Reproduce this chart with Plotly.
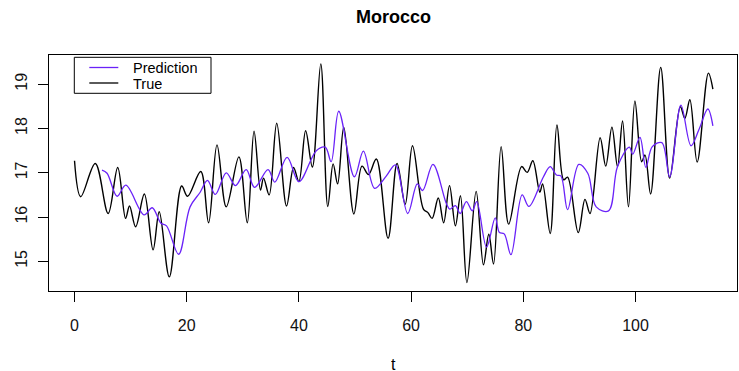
import plotly.graph_objects as go

# ---- data ----
true_t = [0, 1.1, 3.7, 6.0, 7.7, 9.1, 9.8, 10.9, 12.45, 14.0, 15.1, 16.9, 19.1, 20.15, 22.5, 23.9,
          25.4, 27.05, 29.3, 30.8, 32.0, 33.15, 33.7, 34.7, 36.05, 37.8, 39.05, 40.0, 41.2, 42.4,
          43.9, 45.15, 46.1, 46.9, 48.0, 49.8, 51.25, 52.4, 53.8, 55.9, 57.5, 58.95, 60.25, 62.2,
          63.0, 63.75, 64.85, 65.8, 66.85, 67.9, 68.8, 69.95, 71.6, 72.9, 73.85, 74.7, 76.05, 77.4,
          79.7, 80.7, 81.7, 82.95, 83.45, 84.8, 86.0, 87.2, 87.9, 89.8, 91.0, 91.9, 93.7, 94.7,
          95.8, 96.8, 97.7, 98.75, 99.9, 101.1, 101.7, 102.7, 104.5, 106.1, 108.0, 108.8, 109.7,
          111.0, 113.0, 113.8]
true_v = [17.27, 16.46, 17.21, 16.08, 17.12, 15.97, 16.25, 15.78, 16.52, 15.26, 16.12, 14.65, 16.70, 16.47, 17.03, 15.87,
          17.63, 16.23, 17.36, 15.87, 17.94, 16.61, 16.88, 16.50, 18.12, 16.25, 17.12, 16.80, 17.95, 17.13,
          19.46, 16.24, 17.20, 16.75, 18.03, 16.07, 17.15, 16.96, 17.31, 15.52, 17.21, 16.29, 17.61, 16.18,
          16.10, 15.97, 16.43, 15.87, 16.71, 15.80, 16.48, 14.52, 16.58, 14.92, 15.61, 14.94, 17.59, 15.84,
          17.14, 17.01, 17.27, 16.56, 16.75, 15.63, 18.08, 16.84, 16.90, 15.65, 16.40, 16.08, 17.79, 17.15,
          18.03, 17.14, 18.17, 16.23, 18.62, 17.25, 17.40, 16.52, 19.38, 16.88, 18.49, 18.23, 18.65,
          17.24, 19.25, 18.89]

pred_t = [4.9, 5.8, 7.6, 9.15, 12.4, 13.85, 15.4, 16.4, 18.55, 20.6, 22.4, 23.7, 25.1, 27.05, 28.7,
          30.6, 32.1, 34.5, 35.7, 37.9, 40.0, 43.1, 44.7, 45.75, 47.1, 49.9, 51.5, 53.5, 55.6, 57.2,
          59.4, 61.1, 62.05, 63.9, 66.3, 66.9, 67.9, 68.75, 69.85, 70.9, 71.7, 73.45, 75.0, 75.75,
          76.6, 77.8, 79.8, 81.0, 83.6, 84.8, 85.9, 86.7, 87.9, 89.9, 91.5, 93.0, 95.2, 96.8, 98.9,
          99.5, 100.8, 101.85, 103.0, 104.7, 106.1, 108.1, 109.9, 111.3, 112.9, 113.8]
pred_v = [17.06, 16.99, 16.47, 16.72, 16.05, 16.21, 15.86, 15.80, 15.16, 16.23, 16.56, 16.83, 16.51, 17.00, 16.71,
          17.07, 16.67, 17.07, 16.79, 17.35, 16.80, 17.50, 17.58, 17.25, 18.39, 16.91, 17.49, 16.65, 16.93, 17.18,
          16.08, 16.75, 16.60, 17.19, 16.30, 16.18, 16.26, 16.08, 16.35, 16.14, 16.35, 15.32, 15.98, 15.65,
          15.62, 15.15, 16.50, 16.24, 16.91, 17.14, 16.95, 16.93, 16.17, 17.19, 16.99, 16.23, 16.14, 17.14, 17.58,
          17.42, 17.80, 17.12, 17.59, 17.68, 16.91, 18.53, 17.61, 17.97, 18.44, 18.06]

x_ticks = [0, 20, 40, 60, 80, 100]
y_ticks = [15, 16, 17, 18, 19]
title_text = "Morocco"
x_title = "t"
legend_names = ["Prediction", "True"]
pred_color = "#6A22F8"
true_color = "#000000"

FONT = "Liberation Sans, Arial, Helvetica, sans-serif"

fig = go.Figure()
fig.add_trace(go.Scatter(x=true_t, y=true_v, mode="lines", name=legend_names[1],
                         line=dict(color=true_color, width=1.4, shape="spline", smoothing=1.0),
                         showlegend=False))
fig.add_trace(go.Scatter(x=pred_t, y=pred_v, mode="lines", name=legend_names[0],
                         line=dict(color=pred_color, width=1.3, shape="spline", smoothing=1.0),
                         showlegend=False))

# plot-area geometry in pixels
L, R, T, B = 49, 2, 55, 80
W, H = 739, 371
pw, ph = W - L - R, H - T - B

def px2x(px):
    return (px - L) / pw

def py2y(py):
    return (H - B - py) / ph

shapes = []
annotations = []
# legend box (R style)
shapes.append(dict(type="rect", xref="paper", yref="paper",
                   x0=px2x(74.3), x1=px2x(211), y0=py2y(93.3), y1=py2y(57.3),
                   line=dict(color="black", width=1), fillcolor="white", layer="above"))
for name, col, ly in [(legend_names[0], pred_color, 67.5), (legend_names[1], true_color, 83.0)]:
    shapes.append(dict(type="line", xref="paper", yref="paper",
                       x0=px2x(89.3), x1=px2x(118.3), y0=py2y(ly), y1=py2y(ly),
                       line=dict(color=col, width=1.3), layer="above"))
    annotations.append(dict(text=name, xref="paper", yref="paper", x=px2x(131.5), y=py2y(ly + 0.5),
                            xanchor="left", yanchor="middle", showarrow=False,
                            height=11, borderpad=0, valign="middle",
                            font=dict(family=FONT, size=14.5, color="black")))

annotations.append(dict(text=x_title, xref="paper", yref="paper", x=px2x(393), y=py2y(364),
                        xanchor="center", yanchor="middle", showarrow=False,
                        height=12, borderpad=0,
                        font=dict(family=FONT, size=16, color="black")))
annotations.append(dict(text="<b>" + title_text + "</b>", xref="paper", yref="paper",
                        x=px2x(393), y=py2y(17), xanchor="center", yanchor="middle",
                        showarrow=False, font=dict(family=FONT, size=18, color="black")))

fig.update_layout(
    width=W, height=H,
    margin=dict(l=L, r=R, t=T, b=B, pad=0),
    paper_bgcolor="white", plot_bgcolor="white",
    showlegend=False,
    shapes=shapes, annotations=annotations,
    font=dict(family=FONT, size=16, color="black"),
)
fig.update_xaxes(range=[-4.55, 118.1], tickvals=x_ticks, ticktext=[str(v) for v in x_ticks],
                 showgrid=False, zeroline=False, showline=True, mirror=True,
                 linecolor="black", linewidth=1, ticks="outside", ticklen=10, tickwidth=1,
                 tickcolor="black", tickfont=dict(family=FONT, size=16, color="#111"),
                 ticklabelstandoff=10)
fig.update_yaxes(range=[14.33, 19.66], tickvals=y_ticks, ticktext=[str(v) for v in y_ticks],
                 showgrid=False, zeroline=False, showline=True, mirror=True,
                 linecolor="black", linewidth=1, ticks="outside", ticklen=10, tickwidth=1,
                 tickcolor="black", tickangle=-90, tickfont=dict(family=FONT, size=16, color="#111"),
                 ticklabelstandoff=5)

fig.write_html("out.html", config={"displayModeBar": False},
               post_script="document.body.style.margin='0';document.body.style.overflow='hidden';")
